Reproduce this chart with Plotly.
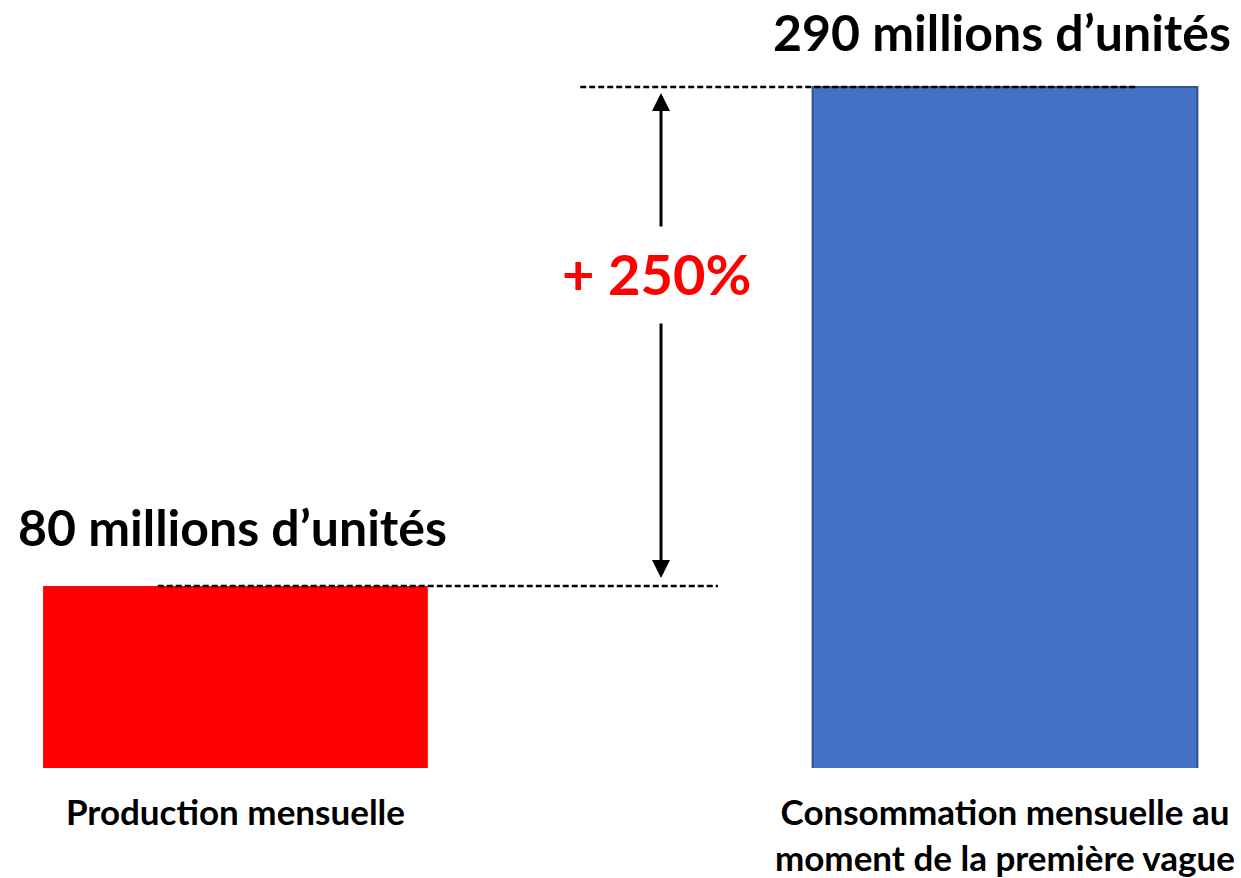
import plotly.graph_objects as go

categories = ["Production mensuelle", "Consommation mensuelle au<br>moment de la première vague"]
values = [80, 290]
value_labels = ["80 millions d’unités", "290 millions d’unités"]
increase_label = "+ 250%"

bar_colors = ["#FF0000", "#4472C4"]
line_colors = ["#FF0000", "#2F528F"]
FONT = "Lato, 'Open Sans', sans-serif"

xpos = [0, 1]
fig = go.Figure()
fig.add_trace(go.Bar(
    x=xpos, y=values, width=0.5,
    marker=dict(color=bar_colors, line=dict(color=line_colors, width=[0, 2])),
    hoverinfo="skip",
))

low, high = values
# dashed reference lines at the bar tops
fig.add_shape(type="line", xref="x", yref="y", x0=-0.101, x1=0.627, y0=low, y1=low,
              line=dict(color="black", width=2.5, dash="6px,3px"))
fig.add_shape(type="line", xref="x", yref="y", x0=0.448, x1=1.173, y0=high, y1=high,
              line=dict(color="black", width=2.5, dash="6px,3px"))

ax_x = 0.553
label_y = 209.6
# arrows
fig.add_annotation(x=ax_x, y=high, ax=ax_x, ay=230.7, xref="x", yref="y", axref="x", ayref="y",
                   showarrow=True, arrowhead=2, arrowsize=1.2, arrowwidth=3, arrowcolor="black",
                   standoff=6, text="")
fig.add_annotation(x=ax_x, y=low, ax=ax_x, ay=191.1, xref="x", yref="y", axref="x", ayref="y",
                   showarrow=True, arrowhead=2, arrowsize=1.2, arrowwidth=3, arrowcolor="black",
                   standoff=8, text="")
fig.add_annotation(x=0.5465, y=label_y, xref="x", yref="y", showarrow=False, yshift=5,
                   text=f"<b>{increase_label}</b>",
                   font=dict(family=FONT, size=56, color="#FF0000"))

# value labels
fig.add_annotation(x=-0.004, y=low, xref="x", yref="y", showarrow=False, yanchor="middle", yshift=59,
                   text=f"<b>{value_labels[0]}</b>", font=dict(family=FONT, size=50, color="black"))
fig.add_annotation(x=0.9966, y=high, xref="x", yref="y", showarrow=False, yanchor="top", yshift=87,
                   text=f"<b>{value_labels[1]}</b>", font=dict(family=FONT, size=50, color="black"))

fig.update_layout(
    width=1241, height=878,
    margin=dict(l=0, r=0, t=0, b=110),
    plot_bgcolor="white", paper_bgcolor="white",
    showlegend=False,
    xaxis=dict(range=[-0.306, 1.3067], tickvals=xpos, ticktext=[f"<b>{c}</b>" for c in categories],
               showgrid=False, zeroline=False, showline=False, ticks="", ticklabelstandoff=21,
               tickfont=dict(family=FONT, size=35, color="black")),
    yaxis=dict(range=[3.4, 326.6], visible=False, showgrid=False, zeroline=False),
)

fig.write_html("out.html")
